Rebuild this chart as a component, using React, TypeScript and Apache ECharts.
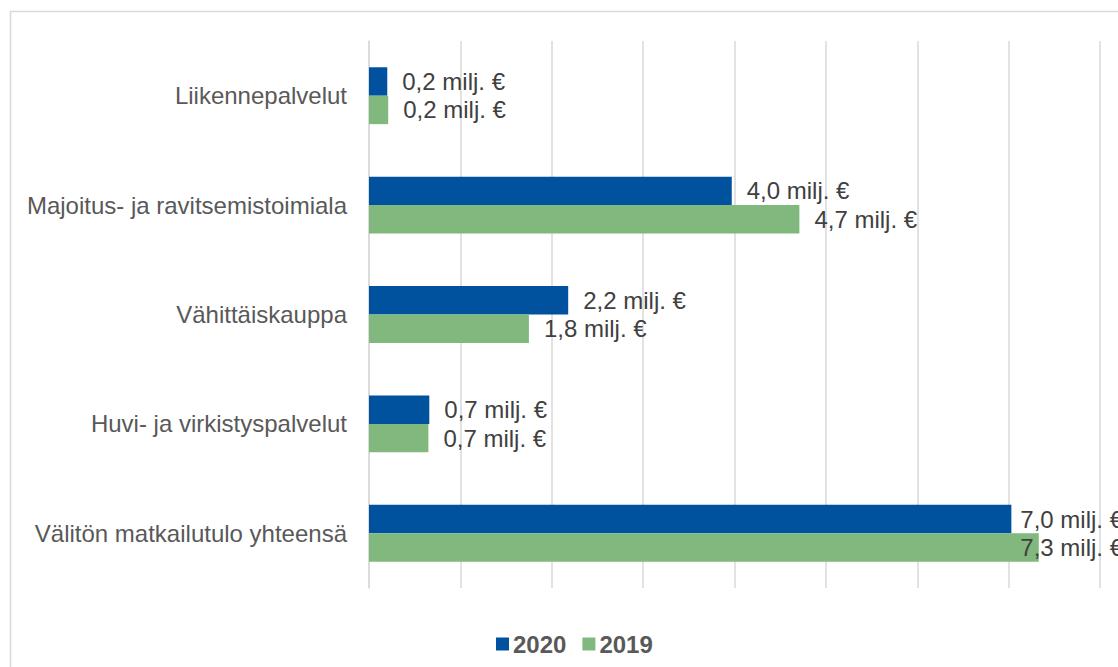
import React, { useEffect, useRef } from "react";
import * as echarts from "echarts";

const categories = [
  "Liikennepalvelut",
  "Majoitus- ja ravitsemistoimiala",
  "Vähittäiskauppa",
  "Huvi- ja virkistyspalvelut",
  "Välitön matkailutulo yhteensä",
];
const values2020 = [0.2, 3.97, 2.18, 0.66, 7.03];
const values2019 = [0.21, 4.71, 1.75, 0.65, 7.33];
const seriesNames = ["2020", "2019"];
const colors = ["#00519e", "#80b87d"];

const fmt = (v: number) => v.toFixed(1).replace(".", ",") + " milj. €";

export default function App() {
  const ref = useRef<HTMLDivElement>(null);
  useEffect(() => {
    if (!ref.current) return;
    const chart = echarts.init(ref.current, undefined, { renderer: "svg" });
    const font = "Liberation Sans, Arial, sans-serif";
    const label = {
      show: true,
      position: "right" as const,
      distance: 15,
      formatter: (p: any) => fmt(p.value),
      color: "#404040",
      fontSize: 24,
      fontFamily: font,
    };
    // labels that would run past the chart's right edge are pulled back, as in the original
    const labelLimit = 1123;
    const labelLayout = (params: any) => {
      const r = params.labelRect;
      const over = r.x + r.width - labelLimit;
      return over > 0 ? { dx: -over } : {};
    };
    chart.setOption({
      animation: false,
      textStyle: { fontFamily: font },
      graphic: [
        {
          type: "rect",
          shape: { x: 10.5, y: 11.5, width: 1200, height: 800 },
          style: { fill: "none", stroke: "#d9d9d9", lineWidth: 1.5 },
          silent: true,
        },
      ],
      legend: {
        data: seriesNames,
        left: 491,
        top: 627,
        itemWidth: 13,
        itemHeight: 13,
        itemGap: 16,
        icon: "rect",
        textStyle: { color: "#595959", fontSize: 24, fontWeight: "bold", fontFamily: font, padding: [0, 0, 0, -1] },
      },
      grid: { left: 369, right: 18, top: 41, bottom: 79, containLabel: false },
      xAxis: {
        type: "value",
        min: 0,
        max: 8,
        interval: 1,
        axisLabel: { show: false },
        axisLine: { show: false },
        axisTick: { show: false },
        splitLine: { show: true, lineStyle: { color: "#d9d9d9", width: 1.5 } },
      },
      yAxis: {
        type: "category",
        data: categories,
        inverse: true,
        axisLine: { show: true, lineStyle: { color: "#d9d9d9", width: 1.5 } },
        axisTick: { show: false },
        axisLabel: { color: "#595959", fontSize: 24, margin: 22, fontFamily: font },
      },
      series: [
        {
          name: seriesNames[0],
          type: "bar",
          data: values2020,
          itemStyle: { color: colors[0] },
          barGap: "0%",
          barCategoryGap: "48%",
          label,
          labelLayout,
        },
        {
          name: seriesNames[1],
          type: "bar",
          data: values2019,
          itemStyle: { color: colors[1] },
          barGap: "0%",
          barCategoryGap: "48%",
          label,
          labelLayout,
        },
      ],
    });
    return () => chart.dispose();
  }, []);
  return (
    <div
      ref={ref}
      style={{ position: "fixed", left: 0, top: 0, width: 1118, height: 667, background: "#fff" }}
    />
  );
}
